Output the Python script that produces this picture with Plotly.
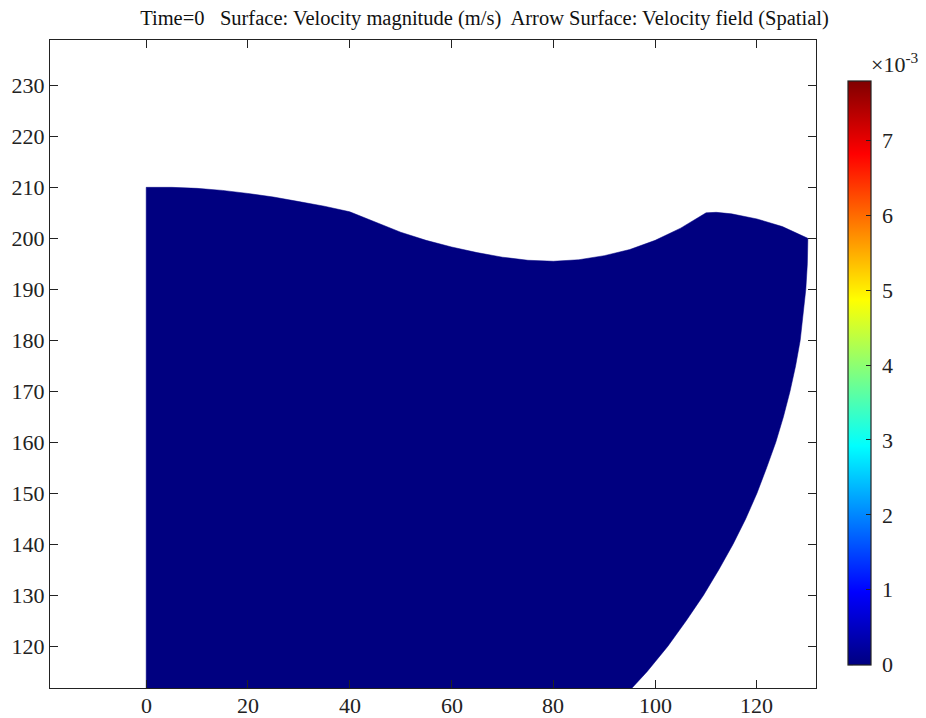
import plotly.graph_objects as go

# Fluid domain outline (metres). Upper free surface, left to right.
top_x = [0, 5, 10, 15, 20, 25, 30, 35, 40, 45, 50, 55, 60, 65, 70, 75, 80, 85, 90, 95,
         100, 105, 110, 112, 115, 120, 125, 130]
top_y = [210.0, 210.0, 209.8, 209.4, 208.8, 208.1, 207.2, 206.3, 205.2, 203.2, 201.2, 199.6,
         198.3, 197.2, 196.3, 195.7, 195.5, 195.8, 196.6, 197.8, 199.6, 202.0, 205.0, 205.1,
         204.8, 203.8, 202.3, 200.0]

# Curved right-hand wall, top to bottom
wall_x = [129.9, 129.6, 129.1, 128.5, 127.6, 126.5, 125.2, 123.7, 121.9, 120.0, 117.8,
          115.3, 112.5, 109.5, 106.1, 102.5, 98.4, 93.8, 88.7]
wall_y = [195, 190, 185, 180, 175, 170, 165, 160, 155, 150, 145,
          140, 135, 130, 125, 120, 115, 110, 105]

# Bottom-left corner that closes the region below the visible window
base_x = [0, 0]
base_y = [105, 210]

# Velocity magnitude (units of 1e-3 m/s)
speed_min = 0.0
speed_max = 7.8
cbar_ticks = [0, 1, 2, 3, 4, 5, 6, 7]

x_ticks = [0, 20, 40, 60, 80, 100, 120]
y_ticks = [120, 130, 140, 150, 160, 170, 180, 190, 200, 210, 220, 230]

x_range = [-18.9, 131.6]
y_range = [111.8, 238.9]

# MATLAB-style jet colour map
JET = [
    [0.0, "rgb(0,0,128)"],
    [0.125, "rgb(0,0,255)"],
    [0.375, "rgb(0,255,255)"],
    [0.625, "rgb(255,255,0)"],
    [0.875, "rgb(255,0,0)"],
    [1.0, "rgb(128,0,0)"],
]

FONT = "Liberation Serif"
INK = "#222222"

W, H = 926, 718
ML, MR, MT, MB = 50, 110, 40, 30
plot_w = W - ML - MR
plot_h = H - MT - MB

fig = go.Figure()

# Surface plot: the whole domain sits at zero speed at t = 0
fig.add_trace(go.Scatter(
    x=top_x + wall_x + base_x,
    y=top_y + wall_y + base_y,
    mode="lines",
    fill="toself",
    fillcolor=JET[0][1],
    line=dict(color=JET[0][1], width=0.5),
    hoverinfo="skip",
    showlegend=False,
))

# Colour bar geometry (pixels from the top of the page)
bar_top_px, bar_bot_px = 80.7, 664.5
bar_len_px = bar_bot_px - bar_top_px
bar_center = (MT + plot_h - (bar_top_px + bar_bot_px) / 2) / plot_h
bar_left = (848.3 - ML) / plot_w
bar_thick = 23

# Carrier for the colour bar (point lies outside the visible window)
fig.add_trace(go.Scatter(
    x=[x_range[0] - 1000], y=[y_range[0] - 1000],
    mode="markers",
    marker=dict(
        color=[speed_min], cmin=speed_min, cmax=speed_max,
        colorscale=JET, showscale=True, size=1,
        colorbar=dict(
            x=bar_left, xanchor="left", xpad=0,
            y=bar_center, yanchor="middle", ypad=0,
            lenmode="pixels", len=bar_len_px,
            thicknessmode="pixels", thickness=bar_thick,
            outlinewidth=1.2, outlinecolor=INK,
            ticks="inside", ticklen=5, tickcolor=INK, tickwidth=1.2,
            tickvals=cbar_ticks,
            ticktext=["\u00a0" + str(t) for t in cbar_ticks],
            tickfont=dict(family=FONT, size=22, color=INK),
        ),
    ),
    hoverinfo="skip",
    showlegend=False,
))

# Matching short ticks on the left edge of the colour bar
shapes = []
for t in cbar_ticks:
    y_px = bar_bot_px - (t - speed_min) / (speed_max - speed_min) * bar_len_px
    yp = (MT + plot_h - y_px) / plot_h
    shapes.append(dict(
        type="line", xref="paper", yref="paper",
        x0=bar_left, x1=bar_left + 5 / plot_w, y0=yp, y1=yp,
        line=dict(color=INK, width=1.2),
    ))

axis_common = dict(
    showgrid=False, zeroline=False, automargin=False,
    showline=True, linecolor=INK, linewidth=1.3,
    mirror="ticks", ticks="inside", ticklen=8, tickwidth=1.3, tickcolor=INK,
    tickfont=dict(family=FONT, size=22, color=INK),
)

# x tick labels sit close under the frame, placed on the x data scale
annotations = [dict(
    text=str(v), xref="x", yref="paper", x=v, y=0,
    xanchor="center", yanchor="top", yshift=-3,
    showarrow=False, font=dict(family=FONT, size=22, color=INK),
) for v in x_ticks]

annotations.append(dict(
    text="×10<sup>-3</sup>", xref="paper", yref="paper",
    x=(869 - ML) / plot_w, xanchor="left",
    y=(MT + plot_h - 63) / plot_h, yanchor="middle",
    showarrow=False, font=dict(family=FONT, size=22, color=INK),
))

fig.update_layout(
    width=W, height=H, autosize=False,
    margin=dict(l=ML, r=MR, t=MT, b=MB, pad=0),
    paper_bgcolor="white", plot_bgcolor="white",
    title=dict(
        text="Time=0   Surface: Velocity magnitude (m/s)  Arrow Surface: Velocity field (Spatial)",
        x=484.5 / W, xanchor="center", y=1 - 18 / H, yanchor="middle",
        font=dict(family=FONT, size=20.5, color="#111111"),
    ),
    xaxis=dict(range=x_range, tickvals=x_ticks, showticklabels=False, **axis_common),
    yaxis=dict(range=y_range, tickvals=y_ticks, **axis_common),
    shapes=shapes,
    annotations=annotations,
)

fig.write_html("out.html")
